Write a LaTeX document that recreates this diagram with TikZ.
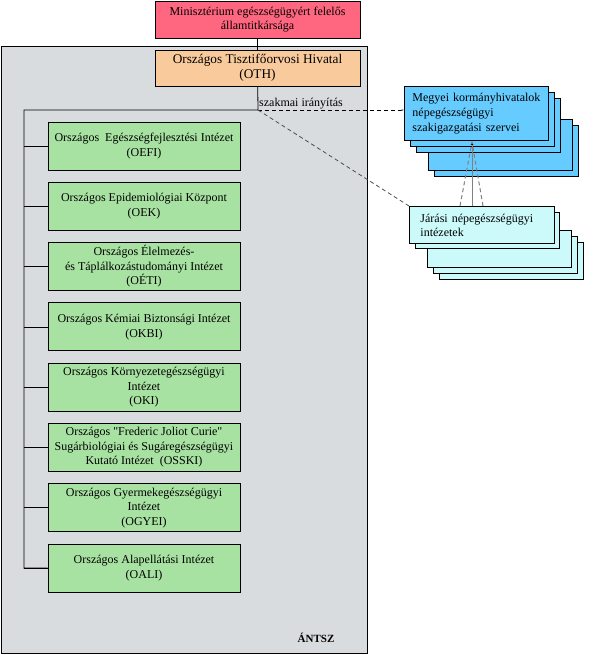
\documentclass[tikz,border=0pt]{standalone}
\usepackage{fontspec}
\setmainfont{Liberation Serif}[Ligatures=TeXOff]
\usetikzlibrary{arrows.meta}
\definecolor{minred}{HTML}{FF6680}
\definecolor{othpeach}{HTML}{F9CB9C}
\definecolor{antszgray}{HTML}{D9DCDF}
\definecolor{instgreen}{HTML}{A8E2A2}
\definecolor{megyeblue}{HTML}{66CCFF}
\definecolor{jarascyan}{HTML}{CCFAFA}
\begin{document}
\begin{tikzpicture}[x=1pt, y=-1pt,
  box/.style={draw, line width=.9pt, inner sep=0pt, align=center},
  inst/.style={box, fill=instgreen, minimum width=192pt, minimum height=48pt, font=\fontsize{12}{14.5}\selectfont},
  layer/.style={draw, line width=.9pt},
  link/.style={line width=.8pt},
  dash7/.style={dash pattern=on 4pt off 3pt}]
\useasboundingbox (0,0) rectangle (592,655);
\draw[fill=antszgray, line width=.9pt] (1.5,46.5) rectangle (367.5,653.5);
\node[font=\fontsize{11}{11}\selectfont\bfseries] (antsz) at (316,638) {ÁNTSZ};

\node[box, fill=minred, minimum width=205pt, minimum height=37pt, font=\fontsize{12}{14}\selectfont] (min) at (257.5,19.5) {Minisztérium egészségügyért felelős\\államtitkársága};
\node[box, fill=othpeach, minimum width=205pt, minimum height=36pt, font=\fontsize{13.3}{15}\selectfont] (oth) at (257.5,68) {Országos Tisztifőorvosi Hivatal\\(OTH)};

\coordinate (hub) at (258,110);
\coordinate (spine) at (24,110);
\node[font=\fontsize{12}{12}\selectfont, anchor=south west, inner sep=1pt] (irany) at (hub) {szakmai irányítás};

\foreach \n/\t [count=\k from 0] in {
  oefi/{Országos~ Egészségfejlesztési Intézet\\(OEFI)},
  oek/{Országos Epidemiológiai Központ\\(OEK)},
  oeti/{Országos Élelmezés-\\és Táplálkozástudományi Intézet\\(OÉTI)},
  okbi/{Országos Kémiai Biztonsági Intézet\\(OKBI)},
  oki/{Országos Környezetegészségügyi\\Intézet\\(OKI)},
  osski/{Országos "Frederic Joliot Curie"\\Sugárbiológiai és Sugáregészségügyi\\Kutató Intézet~ (OSSKI)},
  ogyei/{Országos Gyermekegészségügyi\\Intézet\\(OGYEI)},
  oali/{Országos Alapellátási Intézet\\(OALI)}} {
  \node[inst] (\n) at (144,146+60.3*\k) {\t};
  \draw[link] (spine |- \n.west) -- (\n.west);
}
\draw[link] (min) -- (oth);
\draw[link] (oth) -- (hub) -- (spine) |- (oali.west);

% stacked copies behind the county and district offices
\foreach \a/\b/\c/\d in {434/125/578/176, 428/119/572/170, 416/98/560/152, 410/92/554/146}
  \draw[layer, fill=megyeblue] (\a,\b) rectangle (\c,\d);
\node[box, fill=megyeblue, anchor=north west, minimum width=144pt, minimum height=54pt, text width=128pt, inner xsep=8pt, align=left, font=\fontsize{12}{15}\selectfont] (megyei) at (404,86) {Megyei kormányhivatalok\\népegészségügyi\\szakigazgatási szervei};

\foreach \a/\b/\c/\d in {439/242/583/279, 433/236/577/273, 427/230/571/267, 415/212/559/248}
  \draw[layer, fill=jarascyan] (\a,\b) rectangle (\c,\d);
\node[box, fill=jarascyan, anchor=north west, minimum width=145pt, minimum height=37pt, text width=123pt, inner xsep=11pt, align=left, font=\fontsize{12}{14}\selectfont] (jarasi) at (409,206) {Járási népegészségügyi\\intézetek};

\coordinate (tip) at (472,142);
\coordinate (jl) at (460,206);
\coordinate (jr) at (483,206);
\draw[gray, line width=1pt, -{Latex[length=3pt,width=3pt,color=black]}] (jarasi.north -| tip) -- (tip);
\draw[gray, line width=1pt, dash7] (jl) -- (tip);
\draw[gray, line width=1pt, dash7] (jr) -- (tip);

\draw[link, dash7, -{Latex[length=2.5pt,width=2.5pt,color=gray]}] (hub) -- (hub -| megyei.west);
\draw[link, dash7, black!70] (hub) -- (jarasi.north west);
\end{tikzpicture}
\end{document}
